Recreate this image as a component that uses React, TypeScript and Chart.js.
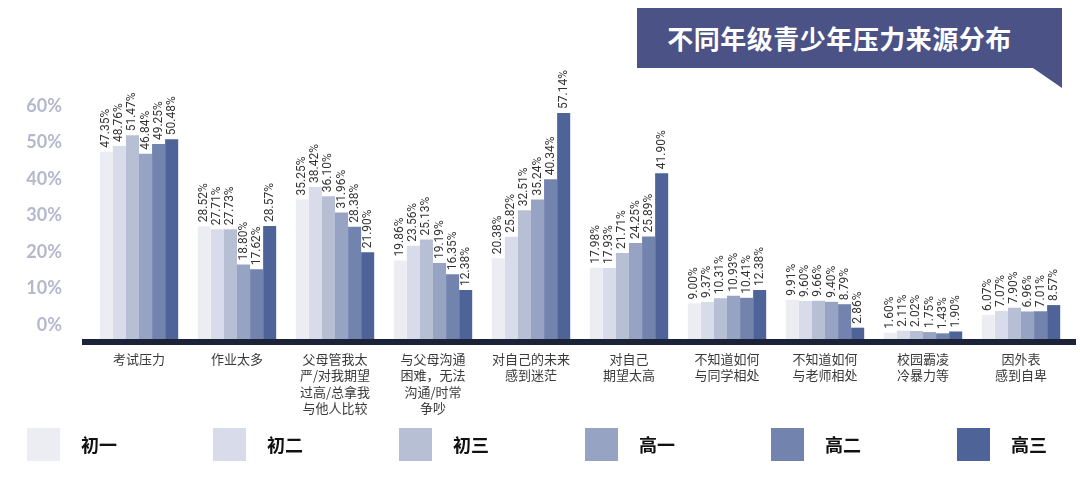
import React, { useEffect, useRef } from "react";
import { Chart, registerables } from "chart.js";

Chart.register(...registerables);

const categories: (string | string[])[] = [
  "考试压力",
  "作业太多",
  ["父母管我太", "严/对我期望", "过高/总拿我", "与他人比较"],
  ["与父母沟通", "困难，无法", "沟通/时常", "争吵"],
  ["对自己的未来", "感到迷茫"],
  ["对自己", "期望太高"],
  ["不知道如何", "与同学相处"],
  ["不知道如何", "与老师相处"],
  ["校园霸凌", "冷暴力等"],
  ["因外表", "感到自卑"],
];

const seriesNames = ["初一", "初二", "初三", "高一", "高二", "高三"];
const seriesColors = ["#ececf3", "#d8dbe9", "#b7bfd5", "#97a3c3", "#7283ae", "#4e6398"];

const chu1 = [47.35, 28.52, 35.25, 19.86, 20.38, 17.98, 9.0, 9.91, 1.6, 6.07];
const chu2 = [48.76, 27.71, 38.42, 23.56, 25.82, 17.93, 9.37, 9.6, 2.11, 7.07];
const chu3 = [51.47, 27.73, 36.1, 25.13, 32.51, 21.71, 10.31, 9.66, 2.02, 7.9];
const gao1 = [46.84, 18.8, 31.96, 19.19, 35.24, 24.25, 10.93, 9.4, 1.75, 6.96];
const gao2 = [49.25, 17.62, 28.38, 16.35, 40.34, 25.89, 10.41, 8.79, 1.43, 7.01];
const gao3 = [50.48, 28.57, 21.9, 12.38, 57.14, 41.9, 12.38, 2.86, 1.9, 8.57];

const seriesValues = [chu1, chu2, chu3, gao1, gao2, gao3];
const yTickValues = [0, 10, 20, 30, 40, 50, 60];

const title = "不同年级青少年压力来源分布";

const CJK = '"Noto Sans CJK SC", "Noto Sans", sans-serif';

const valueLabelPlugin = {
  id: "valueLabels",
  afterDatasetsDraw(chart: any) {
    const ctx = chart.ctx;
    ctx.save();
    ctx.fillStyle = "#333333";
    ctx.font = "12px Roboto, sans-serif";
    ctx.textAlign = "left";
    ctx.textBaseline = "middle";
    chart.data.datasets.forEach((ds: any, di: number) => {
      const meta = chart.getDatasetMeta(di);
      meta.data.forEach((bar: any, i: number) => {
        const v = ds.data[i] as number;
        ctx.save();
        ctx.translate(bar.x, bar.y - 4);
        ctx.rotate(-Math.PI / 2);
        ctx.fillText(v.toFixed(2) + "%", 0, 0);
        ctx.restore();
      });
    });
    ctx.restore();
  },
};

const axisBarPlugin = {
  id: "axisBar",
  afterDatasetsDraw(chart: any) {
    const { ctx, chartArea } = chart;
    ctx.save();
    ctx.fillStyle = "#1c2237";
    ctx.fillRect(chartArea.left - 8, chartArea.bottom, chartArea.right - chartArea.left + 14, 6);
    ctx.restore();
  },
};

export default function App() {
  const canvasRef = useRef<HTMLCanvasElement | null>(null);

  useEffect(() => {
    if (!canvasRef.current) return;
    const chart = new Chart(canvasRef.current, {
      type: "bar",
      data: {
        labels: categories as any,
        datasets: seriesValues.map((vals, i) => ({
          label: seriesNames[i],
          data: vals,
          backgroundColor: seriesColors[i],
          borderWidth: 0,
          categoryPercentage: 0.8,
          barPercentage: 1.0,
          yAxisID: "y",
        })),
      },
      options: {
        responsive: false,
        animation: false,
        maintainAspectRatio: false,
        layout: { padding: { top: 62, right: 10, bottom: 0, left: 0 } },
        plugins: {
          legend: { display: false },
          tooltip: { enabled: false },
          title: { display: false },
        },
        scales: {
          x: {
            grid: { display: false, drawTicks: false },
            border: { display: false },
            ticks: {
              autoSkip: false,
              maxRotation: 0,
              minRotation: 0,
              padding: 12,
              color: "#3a3a3a",
              font: { family: CJK, size: 13, lineHeight: 1.25 },
            },
            afterFit: (scale: any) => {
              scale.height = 142;
            },
          },
          y: {
            type: "linear",
            display: false,
            min: 0,
            max: 70,
          },
          yt: {
            type: "linear",
            axis: "y",
            position: "left",
            min: -3.84,
            max: 72.05,
            grid: { display: false, drawTicks: false },
            border: { display: false },
            afterBuildTicks: (scale: any) => {
              scale.ticks = yTickValues.map((v) => ({ value: v }));
            },
            afterFit: (scale: any) => {
              scale.width = 90;
            },
            ticks: {
              padding: 28,
              color: "#b5b7cc",
              font: { family: "Lato, sans-serif", size: 18, weight: "bold" },
              callback: (v: any) => v + "%",
            },
          },
        } as any,
      },
      plugins: [valueLabelPlugin, axisBarPlugin],
    });
    return () => chart.destroy();
  }, []);

  return (
    <div
      style={{
        position: "fixed",
        left: 0,
        top: 0,
        width: 1080,
        height: 481,
        background: "#ffffff",
        overflow: "hidden",
      }}
    >
      <canvas ref={canvasRef} width={1080} height={481} style={{ position: "absolute", left: 0, top: 0 }} />
      <div
        style={{
          position: "absolute",
          left: 637,
          top: 8,
          width: 425,
          height: 80,
          background: "#4b5286",
          clipPath: "polygon(0 0, 425px 0, 425px 80px, 396px 60px, 0 60px)",
        }}
      >
        <div
          style={{
            position: "absolute",
            left: 0,
            top: 0,
            width: 405,
            height: 60,
            lineHeight: "60px",
            textAlign: "center",
            color: "#ffffff",
            fontFamily: CJK,
            fontWeight: 700,
            fontSize: 26,
            letterSpacing: 0.5,
          }}
        >
          {title}
        </div>
      </div>
      {seriesNames.map((name, i) => (
        <div key={name}>
          <div
            style={{
              position: "absolute",
              left: 27 + 186 * i,
              top: 428,
              width: 33,
              height: 33,
              background: seriesColors[i],
            }}
          />
          <div
            style={{
              position: "absolute",
              left: 27 + 186 * i + 54,
              top: 428,
              height: 33,
              lineHeight: "33px",
              fontFamily: CJK,
              fontWeight: 700,
              fontSize: 18,
              color: "#111111",
              whiteSpace: "nowrap",
            }}
          >
            {name}
          </div>
        </div>
      ))}
    </div>
  );
}
